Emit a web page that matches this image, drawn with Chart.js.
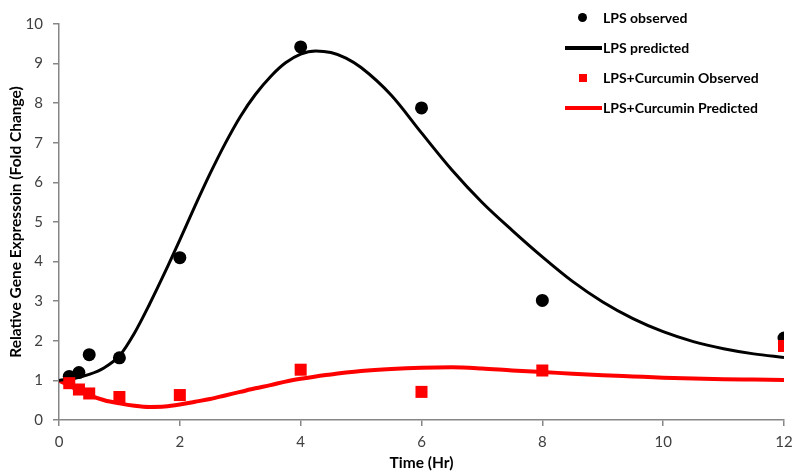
<!DOCTYPE html>
<html>
<head>
<meta charset="utf-8">
<script src="https://cdn.jsdelivr.net/npm/chart.js@4.4.1/dist/chart.umd.min.js"></script>
<style>
  html, body { margin: 0; padding: 0; background: #fff; }
  #wrap { position: relative; width: 800px; height: 472px; }
  #legend { position: absolute; left: 560px; top: 0; width: 240px; height: 125px;
    font-family: Lato, "Liberation Sans", sans-serif; font-weight: bold; font-size: 14px; color: #000; }
  .item { position: absolute; left: 43px; line-height: 18px; margin-top: -9px; white-space: nowrap; }
  .mark { position: absolute; }
</style>
</head>
<body>
<div id="wrap">
  <canvas id="geneChart" width="800" height="472"></canvas>
  <div id="legend">
    <div class="mark" style="left:18px;top:13px;width:9px;height:9px;border-radius:50%;background:#000"></div>
    <div class="item" style="top:18px">LPS observed</div>
    <div class="mark" style="left:5px;top:46px;width:37px;height:4px;background:#000"></div>
    <div class="item" style="top:48px">LPS predicted</div>
    <div class="mark" style="left:19px;top:74px;width:8px;height:8px;background:#f00"></div>
    <div class="item" style="top:78px">LPS+Curcumin Observed</div>
    <div class="mark" style="left:5px;top:106px;width:37px;height:4px;background:#f00"></div>
    <div class="item" style="top:108px">LPS+Curcumin Predicted</div>
  </div>
</div>
<script>
// observed time points (hours)
const timeObserved = [0.17, 0.33, 0.5, 1, 2, 4, 6, 8, 12];
const lpsObserved = [1.1, 1.2, 1.65, 1.57, 4.1, 9.42, 7.88, 3.02, 2.07];
const curcuminObserved = [0.93, 0.77, 0.67, 0.58, 0.63, 1.27, 0.71, 1.25, 1.87];

// model curves
const timePredicted = [0, 0.25, 0.5, 0.75, 1, 1.25, 1.5, 1.75, 2, 2.25, 2.5, 2.75, 3, 3.25, 3.5, 3.75,
  4, 4.25, 4.5, 4.75, 5, 5.5, 6, 6.5, 7, 7.5, 8, 8.5, 9, 9.5, 10, 10.5, 11, 11.5, 12];
const lpsPredicted = [1.0, 1.05, 1.15, 1.32, 1.62, 2.2, 2.93, 3.72, 4.55, 5.4, 6.22, 6.98, 7.66, 8.22, 8.67, 9.02,
  9.24, 9.32, 9.28, 9.14, 8.9, 8.2, 7.25, 6.32, 5.5, 4.79, 4.12, 3.5, 2.98, 2.56, 2.23, 1.98, 1.8, 1.67, 1.58];
const curcuminPredicted = [1.0, 0.8, 0.63, 0.5, 0.42, 0.36, 0.33, 0.34, 0.39, 0.46, 0.53, 0.62, 0.71, 0.8, 0.88, 0.97,
  1.04, 1.1, 1.15, 1.2, 1.24, 1.29, 1.32, 1.33, 1.3, 1.25, 1.21, 1.17, 1.13, 1.1, 1.07, 1.05, 1.03, 1.02, 1.01];

const xTicks = [0, 2, 4, 6, 8, 10, 12];
const yTicks = [0, 1, 2, 3, 4, 5, 6, 7, 8, 9, 10];

function pts(xs, ys) {
  return xs.map((x, i) => ({ x: x, y: ys[i] }));
}

const axisColor = '#868686';
const tickFont = { family: 'Lato, "Liberation Sans", sans-serif', size: 15 };
const titleFont = { family: 'Lato, "Liberation Sans", sans-serif', size: 15.5, weight: 'bold' };

const ctx = document.getElementById('geneChart').getContext('2d');
new Chart(ctx, {
  type: 'scatter',
  data: {
    datasets: [
      {
        label: 'LPS observed',
        data: pts(timeObserved, lpsObserved),
        pointStyle: 'circle',
        pointRadius: 6.5,
        backgroundColor: '#000',
        borderColor: '#000',
        borderWidth: 0,
        order: 2
      },
      {
        label: 'LPS predicted',
        type: 'line',
        data: pts(timePredicted, lpsPredicted),
        borderColor: '#000',
        borderWidth: 3,
        pointRadius: 0,
        cubicInterpolationMode: 'monotone',
        fill: false,
        order: 1
      },
      {
        label: 'LPS+Curcumin Observed',
        data: pts(timeObserved, curcuminObserved),
        pointStyle: 'rect',
        pointRadius: 8.5,
        backgroundColor: '#f00',
        borderColor: '#f00',
        borderWidth: 0,
        order: 0
      },
      {
        label: 'LPS+Curcumin Predicted',
        type: 'line',
        data: pts(timePredicted, curcuminPredicted),
        borderColor: '#f00',
        borderWidth: 4,
        pointRadius: 0,
        cubicInterpolationMode: 'monotone',
        fill: false,
        order: 1
      }
    ]
  },
  options: {
    responsive: false,
    animation: false,
    layout: { padding: { left: 0, right: 16, top: 24, bottom: 0 } },
    plugins: { legend: { display: false }, tooltip: { enabled: false } },
    scales: {
      x: {
        type: 'linear',
        min: 0,
        max: 12,
        afterBuildTicks: (s) => { s.ticks = xTicks.map(v => ({ value: v })); },
        afterFit: (s) => { s.height = 52; },
        ticks: { color: '#404040', font: tickFont, padding: 7, maxRotation: 0 },
        grid: { display: true, drawOnChartArea: false, drawTicks: true, tickLength: 6, color: axisColor, lineWidth: 1.5 },
        border: { color: axisColor, width: 1.5 },
        title: { display: true, text: 'Time (Hr)', color: '#000', font: titleFont, padding: { top: 0, bottom: 0 } }
      },
      y: {
        min: 0,
        max: 10,
        afterBuildTicks: (s) => { s.ticks = yTicks.map(v => ({ value: v })); },
        afterFit: (s) => { s.width = 59; },
        ticks: { color: '#404040', font: tickFont, padding: 10 },
        grid: { display: true, drawOnChartArea: false, drawTicks: true, tickLength: 6, color: axisColor, lineWidth: 1.5 },
        border: { color: axisColor, width: 1.5 },
        title: { display: true, text: 'Relative Gene Expressoin (Fold Change)', color: '#000', font: titleFont, padding: { top: 7, bottom: 0 } }
      }
    }
  }
});
</script>
</body>
</html>
